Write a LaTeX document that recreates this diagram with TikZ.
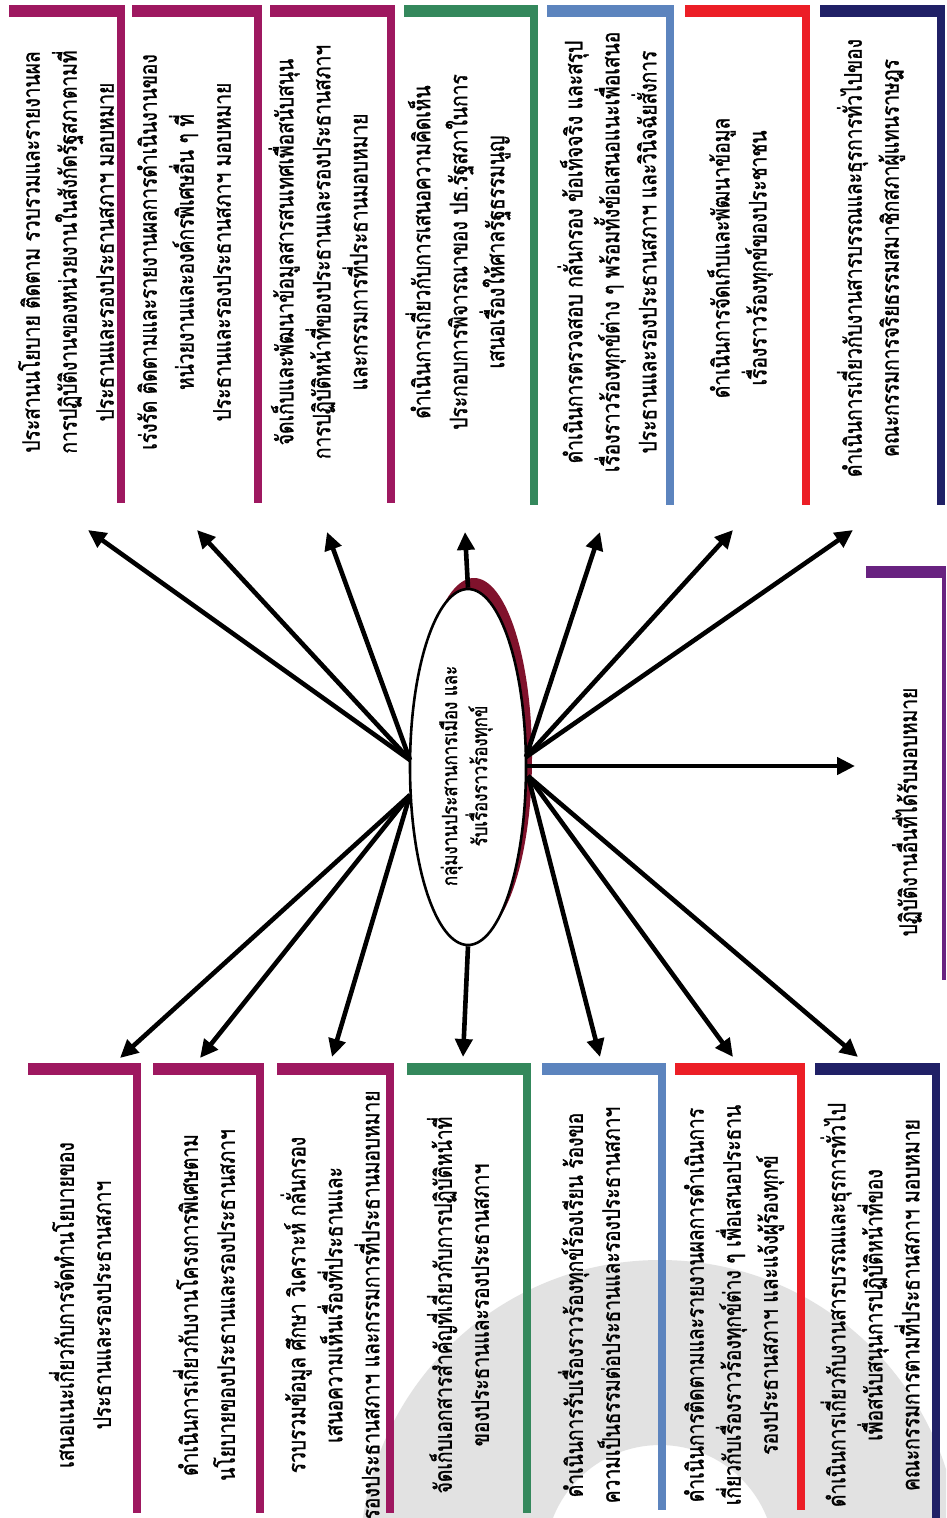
\documentclass[tikz,border=0pt]{standalone}
\usepackage{fontspec}
\newfontfamily\thai[Script=Thai, FakeStretch=0.8, FakeBold=1.2]{Loma}
\usetikzlibrary{arrows.meta,shapes.geometric,fit}

\definecolor{cmag}{RGB}{158,24,96}
\definecolor{cgrn}{RGB}{52,136,92}
\definecolor{cblu}{RGB}{92,132,190}
\definecolor{cred}{RGB}{236,30,38}
\definecolor{cnav}{RGB}{32,32,102}
\definecolor{cpur}{RGB}{104,34,128}
\definecolor{cshade}{RGB}{128,18,44}
\definecolor{cmark}{RGB}{226,226,226}

% coloured bracket: thick bar along the top, thinner bar down the right side
\newcommand\bracketmark[3]{%
  \fill[#2] (#1.north west) rectangle ([yshift=-12pt]#1.north east);
  \fill[#2] ([xshift=-#3]#1.north east) rectangle (#1.south east);
}

\begin{document}
\begin{tikzpicture}[x=1pt,y=-1pt,
  frame/.style={inner sep=0pt, outer sep=0pt},
  txt/.style={rotate=90, align=center, inner sep=0pt,
              font=\thai\fontsize{24}{37}\selectfont},
  ctxt/.style={rotate=90, align=center, inner sep=0pt,
              font=\thai\fontsize{21}{30}\selectfont},
  arr/.style={line width=4.6pt, -{Triangle[length=18pt,width=17pt]}}]

\useasboundingbox (0,0) rectangle (946,1518);
\fill[white] (0,0) rectangle (946,1518);

% faint emblem in the lower right corner
\begin{scope}
  \clip (0,0) rectangle (946,1518);
  \fill[cmark, even odd rule] (660,1560) circle[radius=300] (660,1560) circle[radius=115];
\end{scope}

% ---------- upper row of duties ----------
\node[frame, fit={(9,5)(125,503)}]   (t1) {};
\node[frame, fit={(132,5)(262,503)}] (t2) {};
\node[frame, fit={(270,5)(395,503)}] (t3) {};
\node[frame, fit={(404,5)(538,505)}] (t4) {};
\node[frame, fit={(547,5)(674,505)}] (t5) {};
\node[frame, fit={(685,5)(810,505)}] (t6) {};
\node[frame, fit={(820,5)(945,505)}] (t7) {};
\bracketmark{t1}{cmag}{8pt}
\bracketmark{t2}{cmag}{8pt}
\bracketmark{t3}{cmag}{8pt}
\bracketmark{t4}{cgrn}{8pt}
\bracketmark{t5}{cblu}{8pt}
\bracketmark{t6}{cred}{8pt}
\bracketmark{t7}{cnav}{8pt}

\node[txt] (t1x) at (66,252) {ประสานนโยบาย ติดตาม รวบรวมและรายงานผล\\การปฏิบัติงานของหน่วยงานในสังกัดรัฐสภาตามที่\\ประธานและรองประธานสภาฯ มอบหมาย};
\node[txt] (t2x) at (184,252) {เร่งรัด ติดตามและรายงานผลการดำเนินงานของ\\หน่วยงานและองค์กรพิเศษอื่น ๆ ที่\\ประธานและรองประธานสภาฯ มอบหมาย};
\node[txt] (t3x) at (318,252) {จัดเก็บและพัฒนาข้อมูลสารสนเทศเพื่อสนับสนุน\\การปฏิบัติหน้าที่ของประธานและรองประธานสภาฯ\\และกรรมการที่ประธานมอบหมาย};
\node[txt] (t4x) at (458,252) {ดำเนินการเกี่ยวกับการเสนอความคิดเห็น\\ประกอบการพิจารณาของ ปธ.รัฐสภาในการ\\เสนอเรื่องให้ศาลรัฐธรรมนูญ};
\node[txt] (t5x) at (607,252) {ดำเนินการตรวจสอบ กลั่นกรอง ข้อเท็จจริง และสรุป\\เรื่องราวร้องทุกข์ต่าง ๆ พร้อมทั้งข้อเสนอแนะเพื่อเสนอ\\ประธานและรองประธานสภาฯ และวินิจฉัยสั่งการ};
\node[txt] (t6x) at (740,258) {ดำเนินการจัดเก็บและพัฒนาข้อมูล\\เรื่องราวร้องทุกข์ของประชาชน};
\node[txt] (t7x) at (871,258) {ดำเนินการเกี่ยวกับงานสารบรรณและธุรการทั่วไปของ\\คณะกรรมการจริยธรรมสมาชิกสภาผู้แทนราษฎร};

% ---------- lower row of duties ----------
\node[frame, fit={(28,1063)(141,1513)}]  (b1) {};
\node[frame, fit={(153,1063)(264,1513)}] (b2) {};
\node[frame, fit={(277,1063)(394,1513)}] (b3) {};
\node[frame, fit={(407,1063)(531,1513)}] (b4) {};
\node[frame, fit={(542,1063)(666,1510)}] (b5) {};
\node[frame, fit={(675,1063)(805,1510)}] (b6) {};
\node[frame, fit={(815,1063)(940,1518)}] (b7) {};
\bracketmark{b1}{cmag}{8pt}
\bracketmark{b2}{cmag}{8pt}
\bracketmark{b3}{cmag}{8pt}
\bracketmark{b4}{cgrn}{8pt}
\bracketmark{b5}{cblu}{8pt}
\bracketmark{b6}{cred}{8pt}
\bracketmark{b7}{cnav}{8pt}

\node[txt] (b1x) at (80,1305) {เสนอแนะเกี่ยวกับการจัดทำนโยบายของ\\ประธานและรองประธานสภาฯ};
\node[txt] (b2x) at (204,1305) {ดำเนินการเกี่ยวกับงานโครงการพิเศษตาม\\นโยบายของประธานและรองประธานสภาฯ};
\node[txt] (b3x) at (330,1305) {รวบรวมข้อมูล ศึกษา วิเคราะห์ กลั่นกรอง\\เสนอความเห็นเรื่องที่ประธานและ\\รองประธานสภาฯ และกรรมการที่ประธานมอบหมาย};
\node[txt] (b4x) at (458,1305) {จัดเก็บเอกสารสำคัญที่เกี่ยวกับการปฏิบัติหน้าที่\\ของประธานและรองประธานสภาฯ};
\node[txt] (b5x) at (589,1305) {ดำเนินการรับเรื่องราวร้องทุกข์ร้องเรียน ร้องขอ\\ความเป็นธรรมต่อประธานและรองประธานสภาฯ};
\node[txt] (b6x) at (734,1305) {ดำเนินการติดตามและรายงานผลการดำเนินการ\\เกี่ยวกับเรื่องราวร้องทุกข์ต่าง ๆ เพื่อเสนอประธาน\\รองประธานสภาฯ และแจ้งผู้ร้องทุกข์};
\node[txt] (b7x) at (870,1305) {ดำเนินการเกี่ยวกับงานสารบรรณและธุรการทั่วไป\\เพื่อสนับสนุนการปฏิบัติหน้าที่ของ\\คณะกรรมการตามที่ประธานสภาฯ มอบหมาย};

% ---------- other assigned work ----------
\node[frame, fit={(866,566)(946,980)}] (r) {};
\bracketmark{r}{cpur}{4pt}
\node[txt] (rx) at (907,812) {ปฏิบัติงานอื่นที่ได้รับมอบหมาย};

% ---------- central unit ----------
\node[ellipse, fill=cshade, inner sep=0pt, minimum width=116pt, minimum height=358pt] (cs) at (474,757) {};
\node[ellipse, draw, fill=white, line width=2.6pt, inner sep=0pt,
      minimum width=116pt, minimum height=356pt] (c) at (468,767) {};
\node[ctxt] (cx) at (466,776) {กลุ่มงานประสานการเมือง และ\\รับเรื่องราวร้องทุกข์};

% ---------- connectors ----------
\coordinate (sl1) at (410,760);
\coordinate (sl2) at (410,795);
\coordinate (sr1) at (526,757);
\coordinate (sr2) at (528,776);
\coordinate (sr0) at (527,766);

\coordinate (u1) at (88,530);
\coordinate (u2) at (197,530);
\coordinate (u3) at (327,532);
\coordinate (u4) at (465,532);
\coordinate (u5) at (600,532);
\coordinate (u6) at (733,530);
\coordinate (u7) at (853,530);
\coordinate (d1) at (120,1058);
\coordinate (d2) at (200,1058);
\coordinate (d3) at (332,1057);
\coordinate (d4) at (463,1057);
\coordinate (d5) at (600,1057);
\coordinate (d6) at (733,1057);
\coordinate (d7) at (858,1057);
\coordinate (rr) at (855,766);

\draw[arr] (sl1) -- (u1);
\draw[arr] (sl1) -- (u2);
\draw[arr] (sl1) -- (u3);
\draw[arr] (c.north) -- (u4);
\draw[arr] (sr1) -- (u5);
\draw[arr] (sr1) -- (u6);
\draw[arr] (sr1) -- (u7);
\draw[arr] (sr0) -- (rr);
\draw[arr] (sl2) -- (d1);
\draw[arr] (sl2) -- (d2);
\draw[arr] (sl2) -- (d3);
\draw[arr] (c.south) -- (d4);
\draw[arr] (sr2) -- (d5);
\draw[arr] (sr2) -- (d6);
\draw[arr] (sr2) -- (d7);
\end{tikzpicture}
\end{document}
